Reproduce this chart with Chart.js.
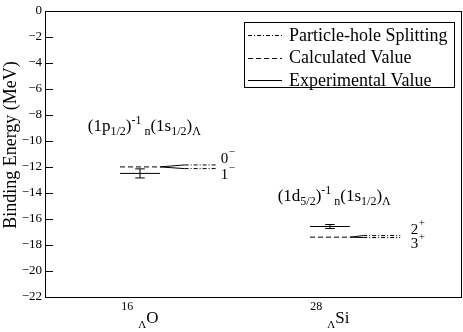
<!DOCTYPE html>
<html><head><meta charset="utf-8">
<script src="https://cdn.jsdelivr.net/npm/chart.js@4/dist/chart.umd.min.js"></script>
<style>html,body{margin:0;padding:0;background:#fff}#wrap{width:463px;height:332px;position:relative}</style>
</head><body><div id="wrap"><canvas id="c"></canvas></div>
<script>
// ---- data ----
const nucleiMass = ['16', '28'];
const nucleiElement = ['O', 'Si'];
const nucleiPos = [1, 3];
const calculated = [-12.0, -17.4];
const experimental = [-12.5, -16.58];
const experimentalErr = [0.35, 0.15];
const splitUpper = [-11.85, -17.28];
const splitLower = [-12.13, -17.43];
const upperLabel = [['0', '−'], ['2', '+']];
const lowerLabel = [['1', '−'], ['3', '+']];
const configLabels = [
  [['(1p','m'],['1/2','sub'],[')','m'],['-1','sup'],['n','sub'],['(1s','m'],['1/2','sub'],[')','m'],['Λ','sub']],
  [['(1d','m'],['5/2','sub'],[')','m'],['-1','sup'],['n','sub'],['(1s','m'],['1/2','sub'],[')','m'],['Λ','sub']]
];
const yTicks = [0, -2, -4, -6, -8, -10, -12, -14, -16, -18, -20, -22];
const yTitle = 'Binding Energy (MeV)';
const legendLabels = ['Particle-hole Splitting', 'Calculated Value', 'Experimental Value'];

// ---- layout / style constants ----
const FONT = '"Liberation Serif", "Times New Roman", serif';
const levelHalf = 0.21, fanEnd = [0.47, 0.35], splitEnd = [0.81, 0.74], capHalf = 0.05, labelOff = 0.85;
const DASH = [5, 3], DASHDOT = [4, 2, 1, 2];

const datasets = [];
function seg(pts, dash) {
  datasets.push({ data: pts, showLine: true, borderColor: '#000', borderWidth: 1, borderDash: dash || [],
    pointRadius: 0, fill: false, tension: 0 });
}
nucleiPos.forEach((c, i) => {
  seg([{x: c - levelHalf, y: calculated[i]}, {x: c + levelHalf, y: calculated[i]}], DASH);
  seg([{x: c - levelHalf, y: experimental[i]}, {x: c + levelHalf, y: experimental[i]}]);
  seg([{x: c, y: experimental[i] - experimentalErr[i]}, {x: c, y: experimental[i] + experimentalErr[i]}]);
  seg([{x: c - capHalf, y: experimental[i] - experimentalErr[i]}, {x: c + capHalf, y: experimental[i] - experimentalErr[i]}]);
  seg([{x: c - capHalf, y: experimental[i] + experimentalErr[i]}, {x: c + capHalf, y: experimental[i] + experimentalErr[i]}]);
  seg([{x: c + levelHalf, y: calculated[i]}, {x: c + fanEnd[i], y: splitUpper[i]}]);
  seg([{x: c + levelHalf, y: calculated[i]}, {x: c + fanEnd[i], y: splitLower[i]}]);
  seg([{x: c + fanEnd[i], y: splitUpper[i]}, {x: c + splitEnd[i], y: splitUpper[i]}], DASHDOT);
  seg([{x: c + fanEnd[i], y: splitLower[i]}, {x: c + splitEnd[i], y: splitLower[i]}], DASHDOT);
});

function drawRich(ctx, segs, x, y) {
  let cx = x;
  segs.forEach(([t, k]) => {
    let size = 17, off = 0;
    if (k === 'sub') { size = 12; off = 4; }
    if (k === 'sup') { size = 12; off = -7; }
    ctx.font = size + 'px ' + FONT;
    ctx.fillText(t, cx, y + off);
    cx += ctx.measureText(t).width + (k === 'sup' ? 3 : 0);
  });
}

const decor = {
  id: 'decor',
  afterDraw(chart) {
    const ctx = chart.ctx, a = chart.chartArea, xs = chart.scales.x, ys = chart.scales.y;
    ctx.save();
    ctx.strokeStyle = '#000'; ctx.fillStyle = '#000'; ctx.lineWidth = 1; ctx.setLineDash([]);
    // frame
    ctx.strokeRect(Math.round(a.left) + 0.5, Math.round(a.top) + 0.5, Math.round(a.right - a.left), Math.round(a.bottom - a.top));
    // inward ticks
    yTicks.forEach(v => {
      const y = Math.round(ys.getPixelForValue(v)) + 0.5;
      ctx.beginPath(); ctx.moveTo(a.left, y); ctx.lineTo(a.left + 8, y); ctx.stroke();
    });
    // y title
    ctx.save();
    ctx.translate(11, 145); ctx.rotate(-Math.PI / 2);
    ctx.font = '18px ' + FONT; ctx.textAlign = 'center'; ctx.textBaseline = 'middle';
    ctx.fillText(yTitle, 0, 0);
    ctx.restore();
    ctx.textBaseline = 'alphabetic'; ctx.textAlign = 'left';
    // x category labels
    nucleiPos.forEach((c, i) => {
      const px = xs.getPixelForValue(c);
      ctx.font = '12px ' + FONT; const wm = ctx.measureText(nucleiMass[i]).width;
      ctx.font = '11px ' + FONT; const wl = ctx.measureText('Λ').width;
      ctx.font = '17px ' + FONT; const we = ctx.measureText(nucleiElement[i]).width;
      const gap = 5, total = wm + gap + wl + we;
      let sx = px - total / 2;
      const base = a.bottom + 26;
      ctx.font = '12px ' + FONT; ctx.fillText(nucleiMass[i], sx, base - 13);
      sx += wm + gap;
      ctx.font = '11px ' + FONT; ctx.fillText('Λ', sx, base + 5);
      sx += wl;
      ctx.font = '17px ' + FONT; ctx.fillText(nucleiElement[i], sx, base);
      // configuration annotation
      drawRich(ctx, configLabels[i], xs.getPixelForValue(c - 0.55), ys.getPixelForValue(calculated[i] + 2.75));
      // level labels
      const lx = xs.getPixelForValue(c + labelOff);
      const yu = ys.getPixelForValue(splitUpper[i]) - 2;
      const yl = ys.getPixelForValue(splitLower[i]) + 10;
      [[upperLabel[i], yu], [lowerLabel[i], yl]].forEach(([lab, by]) => {
        ctx.font = '15px ' + FONT; ctx.fillText(lab[0], lx, by);
        const w = ctx.measureText(lab[0]).width;
        ctx.font = '11px ' + FONT; ctx.fillText(lab[1], lx + w + 0.5, by - 8);
      });
    });
    // legend
    const L = 244, T = 22, R = 454, B = 87;
    ctx.strokeRect(L + 0.5, T + 0.5, R - L, B - T);
    const dashes = [DASHDOT, DASH, []];
    ctx.font = '18px ' + FONT; ctx.textBaseline = 'middle';
    legendLabels.forEach((t, k) => {
      const y = T + 13 + k * 22.5;
      ctx.setLineDash(dashes[k]);
      ctx.beginPath(); ctx.moveTo(L + 4, Math.round(y) + 0.5); ctx.lineTo(L + 38, Math.round(y) + 0.5); ctx.stroke();
      ctx.setLineDash([]);
      ctx.fillText(t, L + 45, y + 1);
    });
    ctx.restore();
  }
};

new Chart(document.getElementById('c'), {
  type: 'scatter',
  data: { datasets },
  options: {
    responsive: true, maintainAspectRatio: false, animation: false,
    layout: { padding: { top: 5, right: 2, bottom: 35, left: 0 } },
    plugins: { legend: { display: false }, tooltip: { enabled: false } },
    scales: {
      x: { type: 'linear', min: 0, max: 4.38, display: false },
      y: {
        type: 'linear', min: -22, max: 0,
        afterBuildTicks: s => { s.ticks = yTicks.map(v => ({ value: v })); },
        afterFit: s => { s.width = 45; },
        grid: { display: false, drawTicks: false, tickLength: 0 },
        border: { display: false },
        ticks: { color: '#000', padding: 3, font: { family: FONT, size: 13 },
          callback: v => String(v).replace('-', '−') },
        title: { display: false }
      }
    }
  },
  plugins: [decor]
});
</script></body></html>
